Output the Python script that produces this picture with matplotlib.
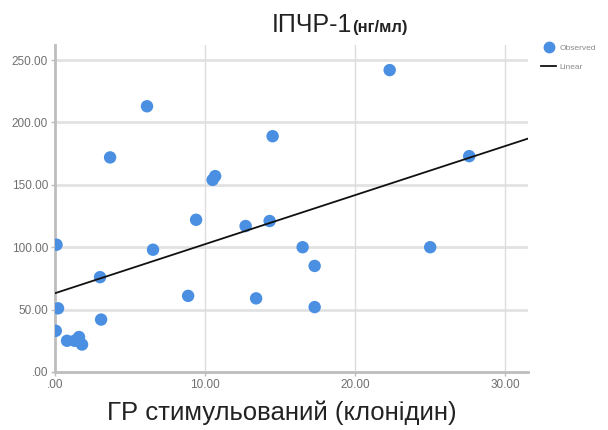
import numpy as np
import matplotlib.pyplot as plt
from matplotlib.lines import Line2D

plt.rcParams['font.family'] = ['Liberation Sans', 'DejaVu Sans']

# ГР стимульований (клонідин) vs ІПЧР-1
gr = [0.1, 0.2, 0.05, 0.8, 1.3, 1.6, 1.8, 3.0, 3.07, 3.67, 6.13, 6.53, 8.87,
      9.4, 10.5, 10.67, 12.7, 13.4, 14.3, 14.5, 16.5, 17.3, 17.3, 22.3, 25.0, 27.6]
igf = [102, 51, 33, 25, 25, 28, 22, 76, 42, 172, 213, 98, 61,
       122, 154, 157, 117, 59, 121, 189, 100, 85, 52, 242, 100, 173]
xticks = [0, 10, 20, 30]
xlabels = ['.00', '10.00', '20.00', '30.00']
yticks = [0, 50, 100, 150, 200, 250]
ylabels = ['.00', '50.00', '100.00', '150.00', '200.00', '250.00']

b, a = np.polyfit(gr, igf, 1)

fig = plt.figure(figsize=(6.08, 4.30), dpi=100)
ax = fig.add_axes([0.0905, 0.135, 0.7775, 0.76])

ax.set_xlim(0, 31.5)
ax.set_ylim(0, 262)

for y in yticks[1:]:
    ax.axhline(y, color='#e2e2e2', lw=2.0, zorder=0)
for x in xticks[1:]:
    ax.axvline(x, color='#dcdcdc', lw=1.0, zorder=0)

ax.scatter(gr, igf, s=80, color='#4A8FE2', edgecolors='none', zorder=3)

xx = np.array([0, 31.5])
ax.plot(xx, a + b * xx, color='#111111', lw=1.3, zorder=4)

for s in ['top', 'right']:
    ax.spines[s].set_visible(False)
for s in ['left', 'bottom']:
    ax.spines[s].set_color('#bdbdbd')
    ax.spines[s].set_linewidth(2)

ax.set_xticks(xticks)
ax.set_xticklabels(xlabels)
ax.set_yticks(yticks)
ax.set_yticklabels(ylabels)
ax.tick_params(axis='both', colors='#bdbdbd', length=3, width=1,
               labelsize=8.5, labelcolor='#707070', pad=2)

fig.text(272 / 608, 0.926, 'ІПЧР-1', fontsize=18, ha='left', va='baseline', color='#222222')
fig.text(352 / 608, 0.926, '(нг/мл)', fontsize=12, fontweight='bold', ha='left',
         va='baseline', color='#222222')

fig.text(281.5 / 608, 1 - 413 / 430, 'ГР стимульований (клонідин)', fontsize=18.5,
         ha='center', va='center', color='#222222')

handles = [Line2D([], [], marker='o', ls='none', color='#4A8FE2', markersize=7.5),
           Line2D([], [], color='#111111', lw=1.3)]
fig.legend(handles, ['Observed', 'Linear'], loc='upper left',
           bbox_to_anchor=(0.885, 0.905), frameon=False, fontsize=6,
           labelcolor='#8a8a8a', handlelength=1.8, handletextpad=0.4,
           labelspacing=1.3, borderaxespad=0)

fig.savefig('out.png', dpi=100)
